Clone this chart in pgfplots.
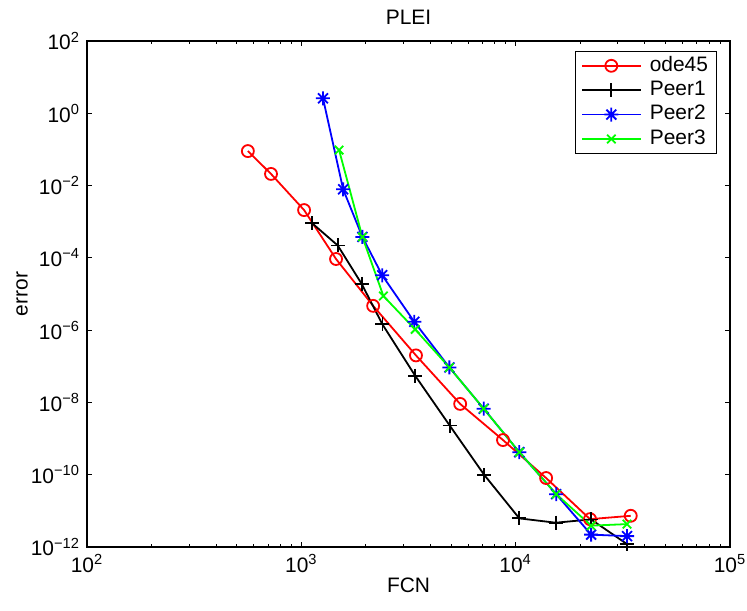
\documentclass[border=0pt]{standalone}
\usepackage{fontspec}
\setmainfont{Liberation Sans}
\usepackage{pgfplots}
\pgfplotsset{compat=1.18}

% matlab style '*' marker: plus and cross on top of each other
\pgfdeclareplotmark{mstar}{%
  \pgfpathmoveto{\pgfqpoint{-\pgfplotmarksize}{0pt}}\pgfpathlineto{\pgfqpoint{\pgfplotmarksize}{0pt}}%
  \pgfpathmoveto{\pgfqpoint{0pt}{-\pgfplotmarksize}}\pgfpathlineto{\pgfqpoint{0pt}{\pgfplotmarksize}}%
  \pgfpathmoveto{\pgfqpoint{-.707\pgfplotmarksize}{-.707\pgfplotmarksize}}\pgfpathlineto{\pgfqpoint{.707\pgfplotmarksize}{.707\pgfplotmarksize}}%
  \pgfpathmoveto{\pgfqpoint{-.707\pgfplotmarksize}{.707\pgfplotmarksize}}\pgfpathlineto{\pgfqpoint{.707\pgfplotmarksize}{-.707\pgfplotmarksize}}%
  \pgfusepathqstroke}

\definecolor{mred}{rgb}{1,0,0}
\definecolor{mblue}{rgb}{0,0,1}
\definecolor{mgreen}{rgb}{0,1,0}

\begin{document}
\begin{tikzpicture}
\begin{axis}[
  scale only axis, width=321.5bp, height=253bp,
  xmode=log, ymode=log,
  xmin=1e2, xmax=1e5, ymin=1e-12, ymax=1e2,
  font=\fontsize{10.5}{12.6}\selectfont,
  axis line style={line width=0.6bp},
  every tick/.style={black, line width=0.5bp},
  major tick length=2.5bp, minor tick length=1.5bp,
  xtick={1e2,1e3,1e4,1e5},
  xticklabels={10\textsuperscript{2},10\textsuperscript{3},10\textsuperscript{4},10\textsuperscript{5}},
  ytick={1e-12,1e-10,1e-8,1e-6,1e-4,1e-2,1,1e2},
  yticklabels={10\textsuperscript{−12},10\textsuperscript{−10},10\textsuperscript{−8},10\textsuperscript{−6},10\textsuperscript{−4},10\textsuperscript{−2},10\textsuperscript{0},10\textsuperscript{2}},
  yminorticks=false,
  title={PLEI}, xlabel={FCN}, ylabel={error},
  every axis title/.style={at={(axis description cs:0.5,1)}, anchor=center, yshift=12bp},
  every axis x label/.style={at={(axis description cs:0.5,0)}, anchor=center, yshift=-19bp},
  every axis y label/.style={at={(axis description cs:-0.101,0.5)}, anchor=center, rotate=90},
  legend style={at={(axis description cs:1,1)}, anchor=north east, xshift=-6.5bp, yshift=-5bp,
    draw=black, line width=0.6bp, fill=white, inner xsep=3bp, inner ysep=1bp, row sep=0pt,
    column sep=3bp,
    nodes={inner sep=1.2bp, text height=7.6bp, text depth=2.2bp},
    font=\fontsize{10.5}{12.6}\selectfont},
  legend cell align=left,
  legend image code/.code={\draw[mark repeat=2,mark phase=2,#1] plot coordinates {(0bp,0bp) (14.6bp,0bp) (29.2bp,0bp)};},
  every axis plot/.append style={line width=0.9bp},
]
\addplot[color=mred, mark=o, mark size=3bp, mark options={solid}] coordinates {
 (563,0.090) (722,0.021) (1030,2.1e-3) (1452,9.3e-5) (2163,4.7e-6) (3427,2.0e-7)
 (5508,9.1e-9) (8730,9.1e-10) (13870,8.1e-11) (22230,5.9e-12) (34430,7.3e-12)};
\addplot[color=black, mark=+, mark size=3.5bp] coordinates {
 (1125,9.0e-4) (1479,2.2e-4) (1913,1.9e-5) (2389,1.45e-6) (3396,5.5e-8) (4922,2.3e-9)
 (7143,9.8e-11) (10400,6.2e-12) (15380,4.7e-12) (22470,5.8e-12) (33100,1.2e-12)};
\addplot[color=mblue, mark=mstar, mark size=3.5bp] coordinates {
 (1262,2.6) (1567,7.9e-3) (1927,3.8e-4) (2383,3.3e-5) (3366,1.7e-6) (4906,9.3e-8)
 (7096,6.7e-9) (10400,4.2e-10) (15450,2.9e-11) (22490,2.2e-12) (33100,2.0e-12)};
\addplot[color=mgreen, mark=x, mark size=3bp] coordinates {
 (1500,0.096) (1927,3.8e-4) (2415,8.8e-6) (3396,1.05e-6) (4906,9.3e-8) (7096,6.7e-9)
 (10400,4.2e-10) (15450,2.9e-11) (22490,3.9e-12) (33100,4.3e-12)};
\legend{ode45,Peer1,Peer2,Peer3}
\end{axis}
\pgfresetboundingbox
\path ([shift={(-43.5bp,-32bp)}]current axis.south west) rectangle ([shift={(8.5bp,20.5bp)}]current axis.north east);
\end{tikzpicture}
\end{document}
